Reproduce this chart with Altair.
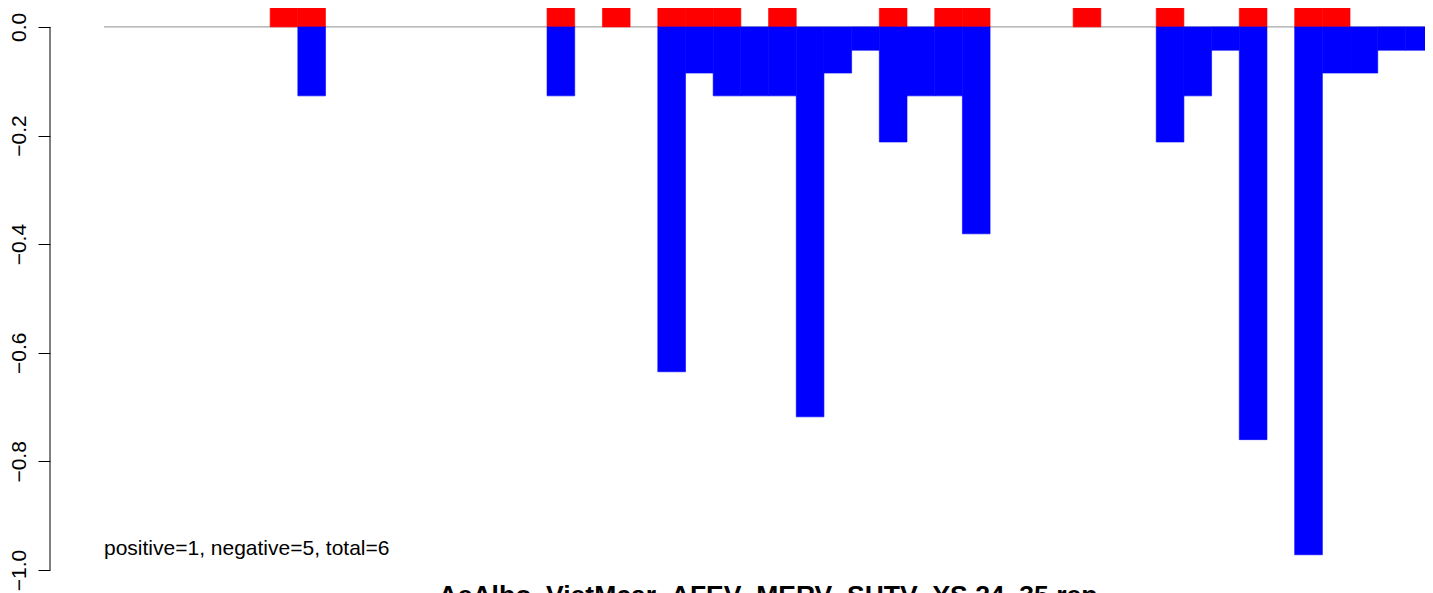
import altair as alt
import pandas as pd

# ---- data ----
pos_slots = [6, 7, 16, 18, 20, 21, 22, 24, 28, 30, 31, 35, 38, 41, 43, 44]
pos_values = [0.042, 0.06, 0.06, 0.042, 0.042, 0.042, 0.06, 0.06, 0.06, 0.06,
              0.042, 0.06, 0.06, 0.042, 0.042, 0.042]
neg_slots = [7, 16, 20, 21, 22, 23, 24, 25, 26, 27, 28, 29, 30, 31,
             38, 39, 40, 41, 43, 44, 45, 46, 47]
neg_values = [-0.127, -0.127, -0.635, -0.085, -0.127, -0.127, -0.127, -0.718,
              -0.085, -0.043, -0.212, -0.127, -0.127, -0.381, -0.212, -0.127,
              -0.043, -0.760, -0.972, -0.085, -0.085, -0.043, -0.043]
y_ticks = [0.0, -0.2, -0.4, -0.6, -0.8, -1.0]
note_text = "positive=1, negative=5, total=6"
main_title = "AeAlbo_VietMcar_AFEV_MERV_SHTV_YS 24_35 rep"

rows = []
for s, v in zip(pos_slots, pos_values):
    rows.append({"start": s, "end": s + 1, "value": v, "base": 0.0, "series": "positive"})
for s, v in zip(neg_slots, neg_values):
    rows.append({"start": s, "end": s + 1, "value": v, "base": 0.0, "series": "negative"})
df = pd.DataFrame(rows)

# the visible plot is cut at the right edge of the window
W, H = 1321, 562
slot_px = 27.69
xs = alt.Scale(domain=[0, W / slot_px], nice=False, zero=False)
ys = alt.Scale(domain=[-1.0, 0.0348], nice=False, zero=False)

yaxis = alt.Axis(
    values=y_ticks, format=".1f", title=None, grid=False, domain=False,
    offset=54, tickSize=12, tickColor="black", tickWidth=1,
    labelAngle=270, labelAlign="center", labelBaseline="alphabetic",
    labelPadding=13, labelFont="Liberation Sans", labelFontSize=21,
    labelColor="black", labelOverlap=False, labelBound=False,
)

cscale = alt.Scale(domain=["positive", "negative"], range=["#ff0000", "#0000ff"])

zero_line = alt.Chart(pd.DataFrame({"v": [0.0]})).mark_rule(
    color="#8f8f8f", strokeWidth=1
).encode(
    y=alt.Y("v:Q", scale=ys, axis=yaxis),
    x=alt.value(0),
    x2=alt.value(W),
)

bars = alt.Chart(df).mark_rect(clip=True, strokeWidth=0.6).encode(
    x=alt.X("start:Q", scale=xs, axis=None),
    x2="end:Q",
    y=alt.Y("value:Q", scale=ys, axis=yaxis),
    y2="base:Q",
    color=alt.Color("series:N", scale=cscale, legend=None),
    stroke=alt.Stroke("series:N", scale=cscale, legend=None),
)

axis_line = alt.Chart(pd.DataFrame({"a": [0.0], "b": [-1.0]})).mark_rule(
    color="black", strokeWidth=1
).encode(
    x=alt.value(-54),
    y=alt.Y("a:Q", scale=ys, axis=yaxis),
    y2="b:Q",
)

note = alt.Chart(pd.DataFrame({"t": [note_text]})).mark_text(
    align="left", baseline="alphabetic", font="Liberation Sans", fontSize=21, color="black"
).encode(
    text="t:N",
    x=alt.value(0),
    y=alt.value(547),
)

title = alt.Chart(pd.DataFrame({"t": [main_title]})).mark_text(
    align="center", baseline="alphabetic", font="Liberation Sans", fontSize=26.5,
    fontWeight="bold", color="black"
).encode(
    text="t:N",
    x=alt.value(664),
    y=alt.value(596),
)

chart = alt.layer(zero_line, bars, axis_line, note, title).properties(
    width=W,
    height=H,
    padding={"left": 96, "top": 0, "right": 0, "bottom": 23},
    autosize=alt.AutoSizeParams(type="none"),
).configure_view(stroke=None)

chart.save("out.html", embed_options={"renderer": "svg", "actions": False})
